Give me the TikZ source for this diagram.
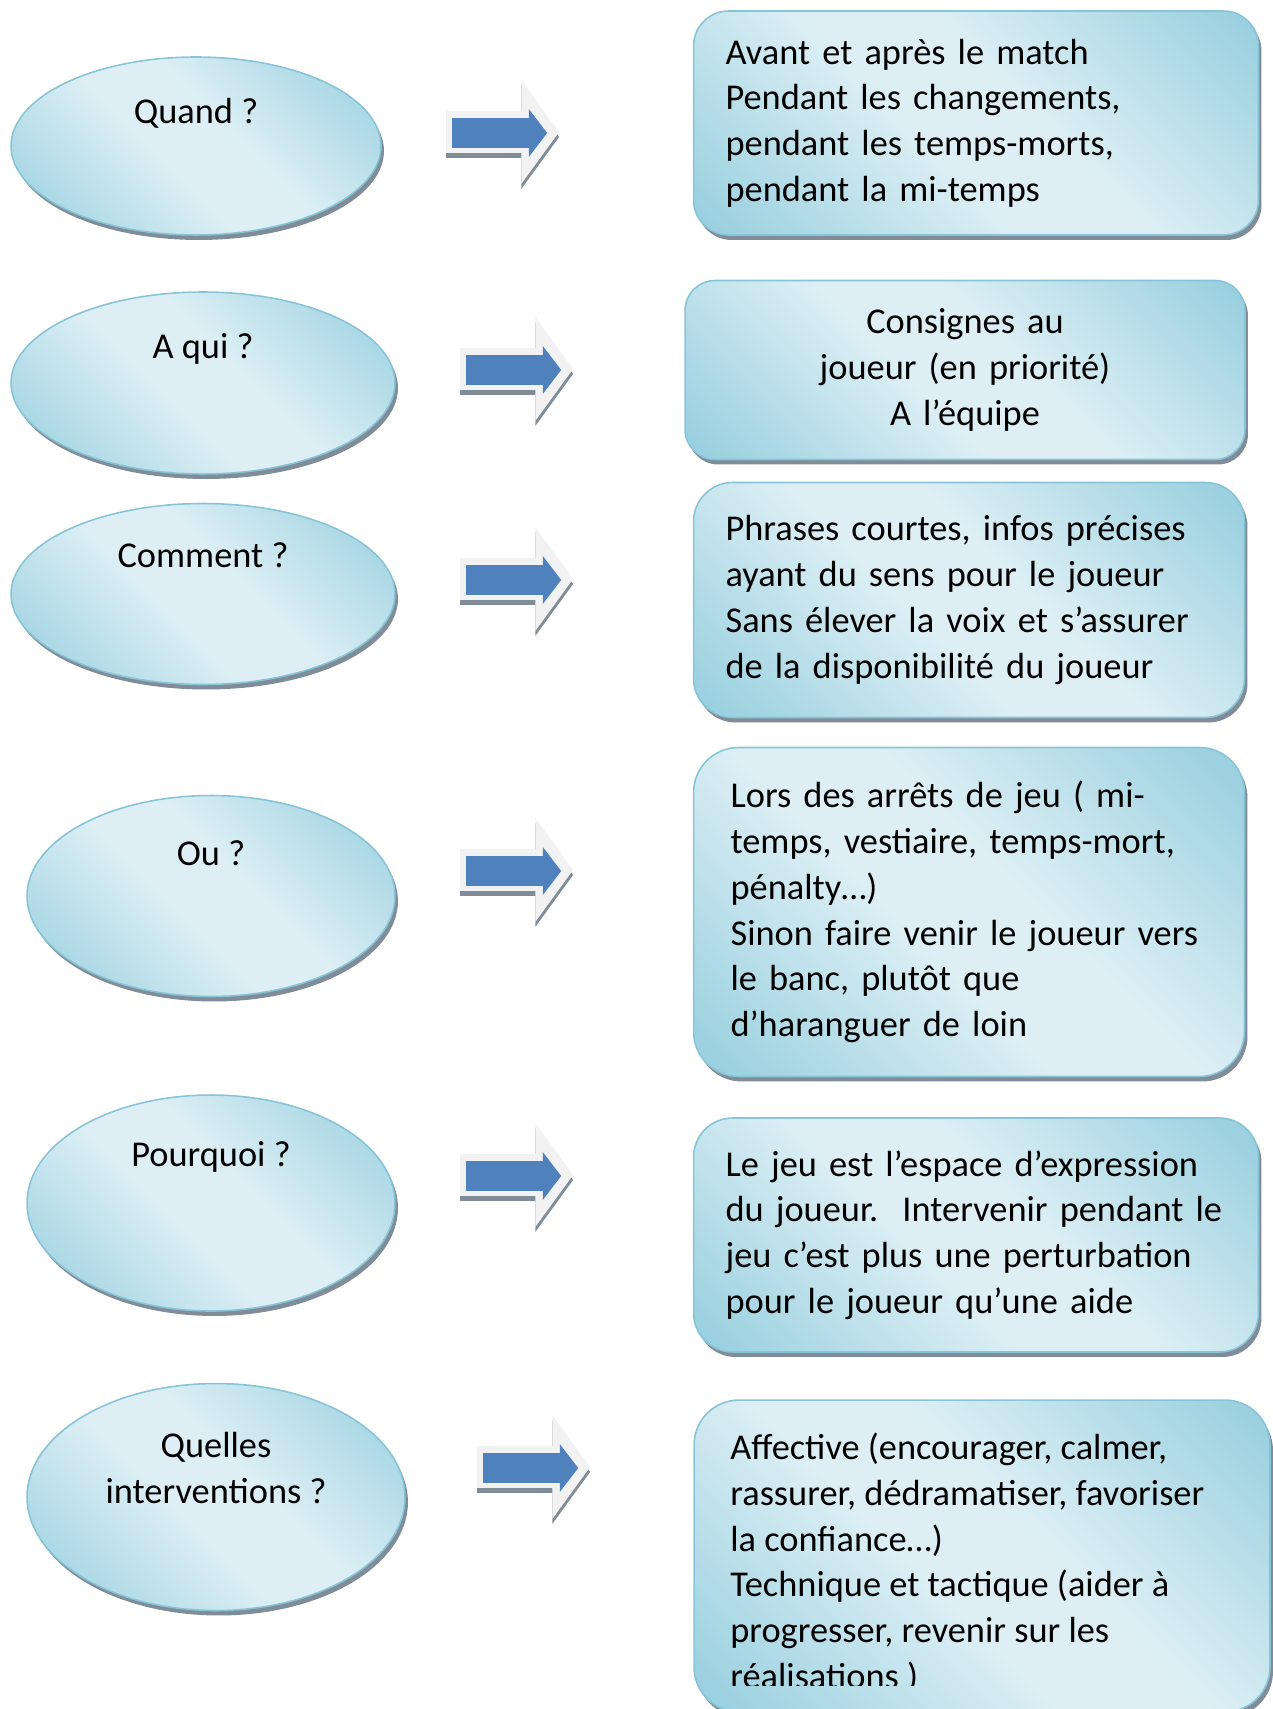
\documentclass[tikz,border=0pt]{standalone}
\usepackage{fontspec}
\setmainfont{Carlito}
\usetikzlibrary{shapes.geometric, shapes.arrows, shadows, positioning, calc}
\frenchspacing

\definecolor{aquadark}{RGB}{147,205,221}
\definecolor{aqualight}{RGB}{221,239,245}
\definecolor{aquaedge}{RGB}{136,196,215}
\definecolor{arrowblue}{RGB}{79,129,189}
\definecolor{arrowpale}{RGB}{242,242,242}
\definecolor{shadowgrey}{RGB}{128,140,152}
\pgfdeclareverticalshading{aquaband}{100bp}{color(0bp)=(aquadark); color(14bp)=(aquadark); color(44bp)=(aqualight); color(56bp)=(aqualight); color(86bp)=(aquadark); color(100bp)=(aquadark)}

\begin{document}
\begin{tikzpicture}[
    x=0.02cm, y=-0.02cm,
    font=\fontsize{20.7}{26}\selectfont,
    hatchshadow/.style={general shadow={shadow xshift=0.06cm, shadow yshift=-0.1cm, fill=shadowgrey}},
    bubble/.style={ellipse, draw=aquaedge, line width=0.9pt, shade, shading=aquaband, shading angle=-45, hatchshadow, inner sep=0},
    question/.style={anchor=north, inner sep=0, align=center, yshift=#1},
    question/.default=-0.84cm,
    answer/.style={rectangle, rounded corners=0.7cm, draw=aquaedge, line width=0.9pt, shade, shading=aquaband, shading angle=-45, hatchshadow, inner xsep=0.64cm, inner ysep=0, align=left},
    backarrow/.style={single arrow, fill=arrowpale, inner xsep=0, inner ysep=0.41cm, minimum height=2.26cm, minimum width=2.06cm, single arrow head extend=0.62cm, single arrow tip angle=108, general shadow={shadow yshift=-0.1cm, fill=shadowgrey}},
    frontarrow/.style={single arrow, fill=arrowblue, inner xsep=0, inner ysep=0.29cm, minimum height=1.9cm, minimum width=0.94cm, single arrow head extend=0.18cm, single arrow tip angle=105}
]
\useasboundingbox (0,0) rectangle (1272,1709);

% Questions
\node (quand) [bubble, minimum width=7.4cm, minimum height=3.56cm, label={[question]north:Quand ?}] at (196,146) {};
\node (aqui) [bubble, minimum width=7.68cm, minimum height=3.64cm, label={[question]north:A qui ?}] at (203,383) {};
\node (comment) [bubble, minimum width=7.68cm, minimum height=3.62cm, label={[question=-0.8cm]north:Comment ?}] at (203,594) {};
\node (ou) [bubble, minimum width=7.36cm, minimum height=4.02cm, label={[question=-0.92cm]north:Ou ?}] at (211,896) {};
\node (pourquoi) [bubble, minimum width=7.36cm, minimum height=4.32cm, label={[question=-0.94cm]north:Pourquoi ?}] at (211,1203) {};
\node (quelles) [bubble, minimum width=7.56cm, minimum height=4.54cm, label={[question=-0.98cm]north:{Quelles\\interventions ?}}] at (216,1497) {};

% Arrows
\node (go1) [backarrow] at (495,132) {};
\node (go1b) [frontarrow] at (494,133) {};
\node (go2) [backarrow] at (509,369) {};
\node (go2b) [frontarrow] at (508,370) {};
\node (go3) [backarrow] at (509,579) {};
\node (go3b) [frontarrow] at (508,580) {};
\node (go4) [backarrow] at (509,870) {};
\node (go4b) [frontarrow] at (508,871) {};
\node (go5) [backarrow] at (509,1175) {};
\node (go5b) [frontarrow] at (508,1176) {};
\node (go6) [backarrow] at (526,1467) {};
\node (go6b) [frontarrow] at (525,1468) {};

% Answers
\node (avant) [answer, text width=10.02cm, minimum height=4.48cm] at (976,123) {Avant et après le match\\Pendant les changements,\\pendant les temps-morts,\\pendant la mi-temps};
\node (consignes) [answer, text width=9.92cm, minimum height=3.58cm, align=center, rounded corners=0.6cm] at (965,370) {Consignes au\\joueur (en priorité)\\A l’équipe};
\node (phrases) [answer, text width=9.74cm, minimum height=4.7cm, rounded corners=0.78cm] at (969,600) {Phrases courtes, infos précises\\ayant du sens pour le joueur\\Sans élever la voix et s’assurer\\de la disponibilité du joueur};
\node (arrets) [answer, text width=9.54cm, inner xsep=0.74cm, minimum height=6.58cm, rounded corners=0.9cm] at (969,912) {Lors des arrêts de jeu ( mi-\\temps, vestiaire, temps-mort,\\pénalty…)\\Sinon faire venir le joueur vers\\le banc, plutôt que\\d’haranguer de loin};
\node (espace) [answer, text width=10.02cm, minimum height=4.68cm, rounded corners=0.78cm] at (976,1235) {Le jeu est l’espace d’expression\\\mbox{du joueur.~ Intervenir pendant le}\\jeu c’est plus une perturbation\\pour le joueur qu’une aide};
\node (types) [answer, minimum width=11.52cm, minimum height=6.24cm, rounded corners=0.9cm] at (982,1556) {};
\begin{scope}
  \clip (types.north west) rectangle (1272,1685);
  \node (typestext) [anchor=north west, inner sep=0, align=left] at (730,1433) {Affective (encourager, calmer,\\rassurer, dédramatiser, favoriser\\la confiance…)\\Technique et tactique (aider à\\progresser, revenir sur les\\réalisations )};
\end{scope}

\end{tikzpicture}
\end{document}
